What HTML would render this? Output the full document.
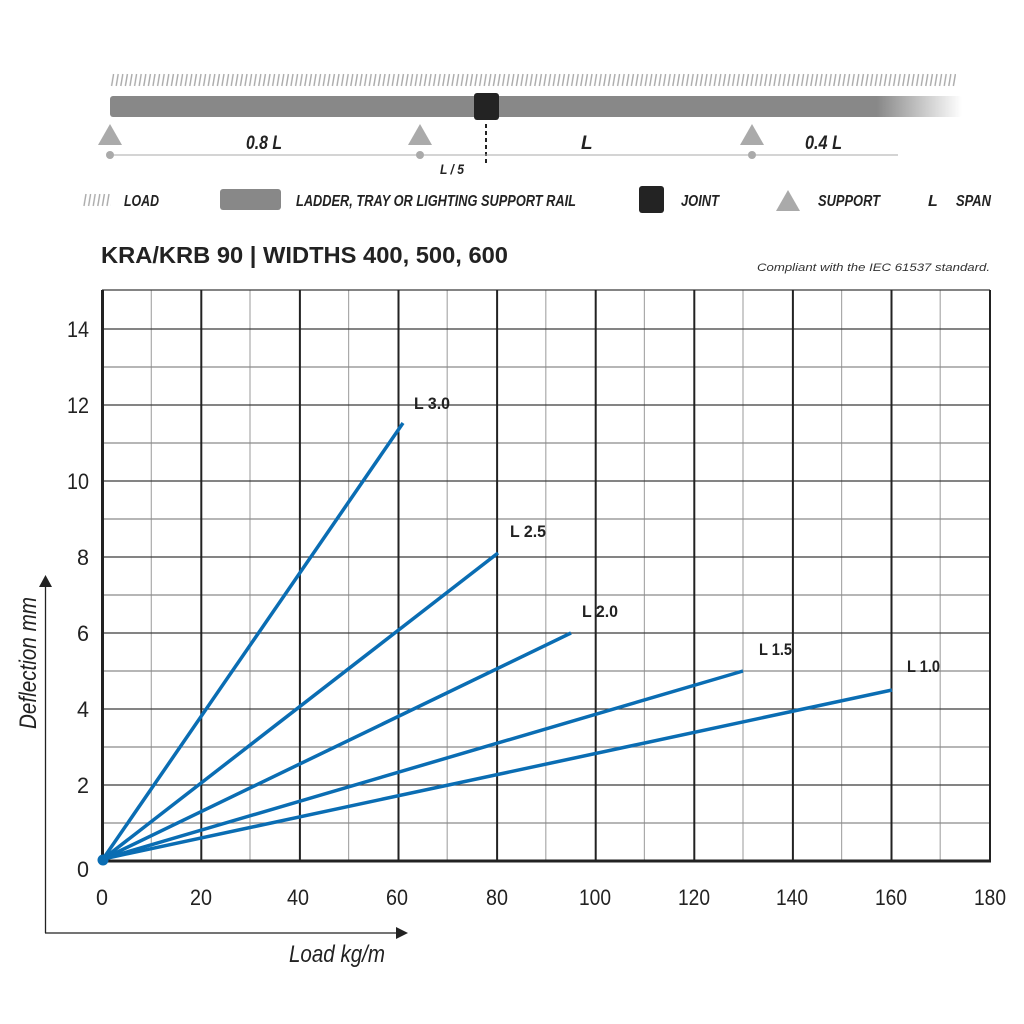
<!DOCTYPE html>
<html><head><meta charset="utf-8"><style>
html,body{margin:0;padding:0;background:#fff;}
svg{display:block;font-family:"Liberation Sans",sans-serif;}
.c{font-style:italic;font-weight:bold;fill:#222;}
.s{font-weight:bold;fill:#222;}
.t{fill:#222;font-size:22px;}
</style></head><body>
<svg width="1024" height="1024" viewBox="0 0 1024 1024" xmlns="http://www.w3.org/2000/svg">
<defs>
<pattern id="h" x="0" y="73" width="4.6" height="14" patternUnits="userSpaceOnUse">
<line x1="1.2" y1="13" x2="3.2" y2="1" stroke="#aaa" stroke-width="1.4"/>
</pattern>
<pattern id="h2" x="0" y="193" width="4.6" height="14" patternUnits="userSpaceOnUse">
<line x1="1.2" y1="13" x2="3.2" y2="1" stroke="#aaa" stroke-width="1.4"/>
</pattern>
<linearGradient id="rg" x1="0" x2="1">
<stop offset="0" stop-color="#888"/><stop offset="0.9" stop-color="#888"/><stop offset="1" stop-color="#888" stop-opacity="0"/>
</linearGradient>
</defs>
<!-- header diagram -->
<rect x="110" y="73" width="846" height="14" fill="url(#h)"/>
<rect x="110" y="96" width="852" height="21" rx="3" fill="url(#rg)"/>
<rect x="474" y="93" width="25" height="27" rx="3" fill="#232323"/>
<line x1="486" y1="124" x2="486" y2="163" stroke="#222" stroke-width="2" stroke-dasharray="4,3"/>
<line x1="110" y1="155" x2="898" y2="155" stroke="#aaa" stroke-width="1"/>
<g fill="#aaa">
<polygon points="110,124 122,145 98,145"/><circle cx="110" cy="155" r="4"/>
<polygon points="420,124 432,145 408,145"/><circle cx="420" cy="155" r="4"/>
<polygon points="752,124 764,145 740,145"/><circle cx="752" cy="155" r="4"/>
</g>
<text class="c" x="246" y="149" font-size="19" textLength="36" lengthAdjust="spacingAndGlyphs">0.8 L</text>
<text class="c" x="581" y="149" font-size="19">L</text>
<text class="c" x="805" y="149" font-size="19" textLength="37" lengthAdjust="spacingAndGlyphs">0.4 L</text>
<text class="c" x="440" y="174" font-size="14" textLength="24" lengthAdjust="spacingAndGlyphs">L / 5</text>
<!-- legend -->
<rect x="83" y="193" width="28" height="14" fill="url(#h2)"/>
<text class="c" x="124" y="206" font-size="16" textLength="35" lengthAdjust="spacingAndGlyphs">LOAD</text>
<rect x="220" y="189" width="61" height="21" rx="3" fill="#888"/>
<text class="c" x="296" y="206" font-size="16" textLength="280" lengthAdjust="spacingAndGlyphs">LADDER, TRAY OR LIGHTING SUPPORT RAIL</text>
<rect x="639" y="186" width="25" height="27" rx="3" fill="#232323"/>
<text class="c" x="681" y="206" font-size="16" textLength="38" lengthAdjust="spacingAndGlyphs">JOINT</text>
<polygon points="788,190 800,211 776,211" fill="#aaa"/>
<text class="c" x="818" y="206" font-size="16" textLength="62" lengthAdjust="spacingAndGlyphs">SUPPORT</text>
<text class="c" x="928" y="206" font-size="16">L</text>
<text class="c" x="956" y="206" font-size="16" textLength="35" lengthAdjust="spacingAndGlyphs">SPAN</text>
<!-- title -->
<text x="101" y="263" font-size="23" font-weight="bold" fill="#222" textLength="407" lengthAdjust="spacingAndGlyphs">KRA/KRB 90 | WIDTHS 400, 500, 600</text>
<text x="990" y="271" font-size="11" font-style="italic" fill="#333" text-anchor="end" textLength="233" lengthAdjust="spacingAndGlyphs">Compliant with the IEC 61537 standard.</text>
<!-- grid -->
<g stroke="#aaa" stroke-width="1.2">
<line x1="151.3" y1="290" x2="151.3" y2="861"/><line x1="250" y1="290" x2="250" y2="861"/>
<line x1="348.6" y1="290" x2="348.6" y2="861"/><line x1="447.2" y1="290" x2="447.2" y2="861"/>
<line x1="545.8" y1="290" x2="545.8" y2="861"/><line x1="644.4" y1="290" x2="644.4" y2="861"/>
<line x1="743" y1="290" x2="743" y2="861"/><line x1="841.6" y1="290" x2="841.6" y2="861"/>
<line x1="940.2" y1="290" x2="940.2" y2="861"/>
</g>
<g stroke="#8a8a8a" stroke-width="1.2">
<line x1="102" y1="823" x2="990" y2="823"/><line x1="102" y1="747" x2="990" y2="747"/>
<line x1="102" y1="671" x2="990" y2="671"/><line x1="102" y1="595" x2="990" y2="595"/>
<line x1="102" y1="519" x2="990" y2="519"/><line x1="102" y1="443" x2="990" y2="443"/>
<line x1="102" y1="367" x2="990" y2="367"/>
</g>
<g stroke="#3a3a3a" stroke-width="1.3">
<line x1="102" y1="785" x2="990" y2="785"/><line x1="102" y1="709" x2="990" y2="709"/>
<line x1="102" y1="633" x2="990" y2="633"/><line x1="102" y1="557" x2="990" y2="557"/>
<line x1="102" y1="481" x2="990" y2="481"/><line x1="102" y1="405" x2="990" y2="405"/>
<line x1="102" y1="329" x2="990" y2="329"/><line x1="102" y1="290" x2="990" y2="290"/>
</g>
<g stroke="#222" stroke-width="2">
<line x1="201.3" y1="290" x2="201.3" y2="861"/><line x1="299.9" y1="290" x2="299.9" y2="861"/>
<line x1="398.5" y1="290" x2="398.5" y2="861"/><line x1="497.1" y1="290" x2="497.1" y2="861"/>
<line x1="595.7" y1="290" x2="595.7" y2="861"/><line x1="694.3" y1="290" x2="694.3" y2="861"/>
<line x1="792.9" y1="290" x2="792.9" y2="861"/><line x1="891.5" y1="290" x2="891.5" y2="861"/>
<line x1="990" y1="290" x2="990" y2="862"/>
</g>
<line x1="102.5" y1="290" x2="102.5" y2="862" stroke="#222" stroke-width="3"/>
<line x1="101" y1="861" x2="991" y2="861" stroke="#222" stroke-width="3"/>
<!-- series -->
<g stroke="#0a6db3" stroke-width="3.5" fill="none" stroke-linecap="butt">
<line x1="103" y1="859" x2="403" y2="423"/>
<line x1="103" y1="859" x2="498" y2="553"/>
<line x1="103" y1="859" x2="571" y2="633"/>
<line x1="103" y1="859" x2="743" y2="671"/>
<line x1="103" y1="859" x2="892" y2="690"/>
</g>
<circle cx="103" cy="860" r="5.5" fill="#0a6db3"/>
<g class="s" font-size="17">
<text x="414" y="409" textLength="36" lengthAdjust="spacingAndGlyphs">L 3.0</text>
<text x="510" y="537" textLength="36" lengthAdjust="spacingAndGlyphs">L 2.5</text>
<text x="582" y="617" textLength="36" lengthAdjust="spacingAndGlyphs">L 2.0</text>
<text x="759" y="655" textLength="33" lengthAdjust="spacingAndGlyphs">L 1.5</text>
<text x="907" y="672" textLength="33" lengthAdjust="spacingAndGlyphs">L 1.0</text>
</g>
<!-- tick labels -->
<g class="t" text-anchor="middle">
<text x="102" y="905" textLength="12" lengthAdjust="spacingAndGlyphs">0</text>
<text x="201" y="905" textLength="22" lengthAdjust="spacingAndGlyphs">20</text>
<text x="298" y="905" textLength="22" lengthAdjust="spacingAndGlyphs">40</text>
<text x="397" y="905" textLength="22" lengthAdjust="spacingAndGlyphs">60</text>
<text x="497" y="905" textLength="22" lengthAdjust="spacingAndGlyphs">80</text>
<text x="595" y="905" textLength="32" lengthAdjust="spacingAndGlyphs">100</text>
<text x="694" y="905" textLength="32" lengthAdjust="spacingAndGlyphs">120</text>
<text x="792" y="905" textLength="32" lengthAdjust="spacingAndGlyphs">140</text>
<text x="891" y="905" textLength="32" lengthAdjust="spacingAndGlyphs">160</text>
<text x="990" y="905" textLength="32" lengthAdjust="spacingAndGlyphs">180</text>
</g>
<g class="t" text-anchor="end">
<text x="89" y="877" textLength="12" lengthAdjust="spacingAndGlyphs">0</text>
<text x="89" y="793" textLength="12" lengthAdjust="spacingAndGlyphs">2</text>
<text x="89" y="717" textLength="12" lengthAdjust="spacingAndGlyphs">4</text>
<text x="89" y="641" textLength="12" lengthAdjust="spacingAndGlyphs">6</text>
<text x="89" y="565" textLength="12" lengthAdjust="spacingAndGlyphs">8</text>
<text x="89" y="489" textLength="22" lengthAdjust="spacingAndGlyphs">10</text>
<text x="89" y="413" textLength="22" lengthAdjust="spacingAndGlyphs">12</text>
<text x="89" y="337" textLength="22" lengthAdjust="spacingAndGlyphs">14</text>
</g>
<!-- outer axes -->
<line x1="45.5" y1="586" x2="45.5" y2="933" stroke="#222" stroke-width="1.3"/>
<polygon points="45.5,575 39,587 52,587" fill="#222"/>
<line x1="45" y1="933" x2="398" y2="933" stroke="#222" stroke-width="1.3"/>
<polygon points="408,933 396,927 396,939" fill="#222"/>
<text x="289" y="962" font-size="24" font-style="italic" fill="#222" textLength="96" lengthAdjust="spacingAndGlyphs">Load kg/m</text>
<text transform="translate(36,729) rotate(-90)" font-size="24" font-style="italic" fill="#222" textLength="132" lengthAdjust="spacingAndGlyphs">Deflection mm</text>
</svg>
</body></html>
